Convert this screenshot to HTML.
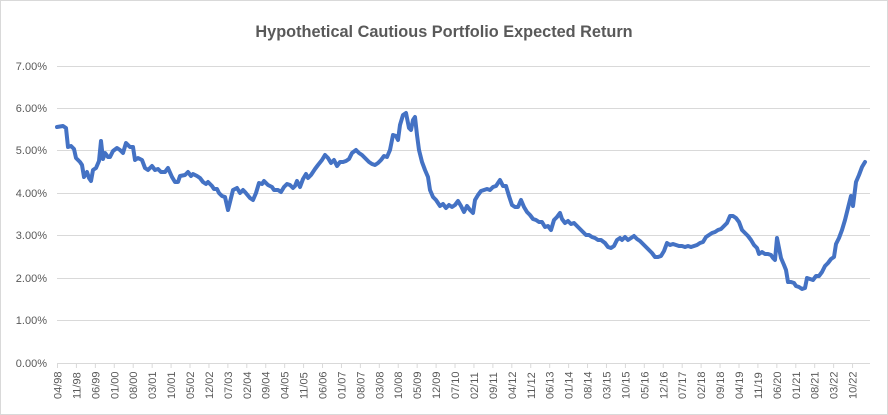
<!DOCTYPE html>
<html><head><meta charset="utf-8"><style>
body{margin:0;background:#fff;}
svg{display:block;font-family:"Liberation Sans",sans-serif;}
</style></head><body>
<svg width="888" height="415" viewBox="0 0 888 415">
<rect x="0.5" y="0.5" width="887" height="414" fill="#fff" stroke="#d9d9d9"/>
<text x="444" y="37" text-anchor="middle" font-size="16.3" font-weight="bold" fill="#595959">Hypothetical Cautious Portfolio Expected Return</text>
<g stroke="#d9d9d9" stroke-width="1">
<line x1="57" x2="870" y1="66.5" y2="66.5"/>
<line x1="57" x2="870" y1="108.5" y2="108.5"/>
<line x1="57" x2="870" y1="150.5" y2="150.5"/>
<line x1="57" x2="870" y1="193.5" y2="193.5"/>
<line x1="57" x2="870" y1="235.5" y2="235.5"/>
<line x1="57" x2="870" y1="278.5" y2="278.5"/>
<line x1="57" x2="870" y1="320.5" y2="320.5"/>
<line x1="57" x2="870" y1="363.5" y2="363.5"/>
</g>
<g font-size="11" fill="#595959" text-anchor="end">
<text x="47" y="70">7.00%</text><text x="47" y="112">6.00%</text><text x="47" y="154">5.00%</text><text x="47" y="197">4.00%</text><text x="47" y="239">3.00%</text><text x="47" y="282">2.00%</text><text x="47" y="324">1.00%</text><text x="47" y="367">0.00%</text>
</g>
<g id="ticks" stroke="#d9d9d9"></g>
<g id="labs" font-size="11" fill="#595959"></g>
<polyline fill="none" stroke="#4472c4" stroke-width="4" stroke-linejoin="round" stroke-linecap="round" points="57,127 63,126 66,128 68,147 71,146 74,149 76,158 80,162 82,165 84,177 87,172 89,178 91,181 93,170 96,168 99,161 101,141 103,159 105,153 108,157 110,157 113,151 117,148 120,150 123,153 126,143 130,147 133,147 135,160 138,158 142,160 145,168 148,170 152,166 155,170 158,169 161,172 165,172 168,168 172,177 175,182 178,182 180,176 185,175 188,172 191,176 193,174 197,176 200,178 203,182 206,184 208,182 212,186 214,189 217,189 219,193 222,196 225,197 228,210 231,198 233,190 237,188 240,193 243,190 245,192 250,198 253,200 256,193 259,183 262,184 264,181 268,185 272,187 274,190 278,190 281,192 284,187 287,184 290,185 293,188 295,186 297,181 300,187 303,179 306,174 308,178 311,175 315,169 318,165 322,160 325,155 328,158 331,163 334,160 337,166 340,162 343,162 346,161 349,159 352,153 356,150 359,153 362,155 366,159 369,162 372,164 375,165 378,163 381,160 384,156 387,157 390,150 393,135 396,136 398,140 400,125 403,115 406,113 409,128 411,130 413,120 415,117 417,135 419,150 422,162 425,170 428,177 430,190 433,197 436,200 440,206 443,204 446,208 449,205 452,207 455,205 458,201 461,206 464,212 467,206 470,210 473,213 475,200 478,195 481,191 484,190 487,189 490,190 493,187 496,186 498,183 500,180 503,186 506,186 509,196 512,205 515,207 518,207 521,200 524,207 527,212 530,215 533,219 536,220 539,222 542,222 545,227 548,226 551,230 554,220 557,217 560,213 562,219 565,223 568,221 571,224 574,223 577,226 580,229 583,232 586,235 589,235 592,237 595,238 598,240 601,240 605,243 608,247 611,248 614,246 617,240 620,238 622,240 625,237 628,240 631,238 634,236 637,239 640,241 643,244 646,247 649,250 652,253 655,257 658,257 661,256 664,251 667,243 670,245 673,244 676,245 679,246 682,246 685,247 688,246 691,247 694,246 697,245 700,243 703,242 706,237 709,235 712,233 715,232 718,230 721,229 724,226 727,223 730,216 733,216 736,218 739,222 742,230 745,233 748,236 751,240 754,245 757,248 759,254 762,252 765,254 768,254 771,255 773,258 775,260 777,238 779,248 781,258 784,265 786,270 788,282 791,282 794,283 796,286 799,287 802,289 805,288 807,278 810,279 813,280 816,276 819,276 822,272 825,266 828,263 831,259 834,257 836,244 839,238 842,230 845,220 848,208 851,196 853,206 856,182 859,175 862,167 865,162"/>
</svg>
<script>
var L="04/98 11/98 06/99 01/00 08/00 03/01 10/01 05/02 12/02 07/03 02/04 09/04 04/05 11/05 06/06 01/07 08/07 03/08 10/08 05/09 12/09 07/10 02/11 09/11 04/12 11/12 06/13 01/14 08/14 03/15 10/15 05/16 12/16 07/17 02/18 09/18 04/19 11/19 06/20 01/21 08/21 03/22 10/22".split(" ");
var t=document.getElementById("ticks"),g=document.getElementById("labs"),ns="http://www.w3.org/2000/svg";
L.forEach(function(s,i){var x=57.5+i*18.93;
var l=document.createElementNS(ns,"line");l.setAttribute("x1",x);l.setAttribute("x2",x);l.setAttribute("y1",363);l.setAttribute("y2",368);t.appendChild(l);
var tx=document.createElementNS(ns,"text");tx.setAttribute("transform","translate("+(x+4)+",399) rotate(-90)");tx.textContent=s;g.appendChild(tx);});
</script>
</body></html>
